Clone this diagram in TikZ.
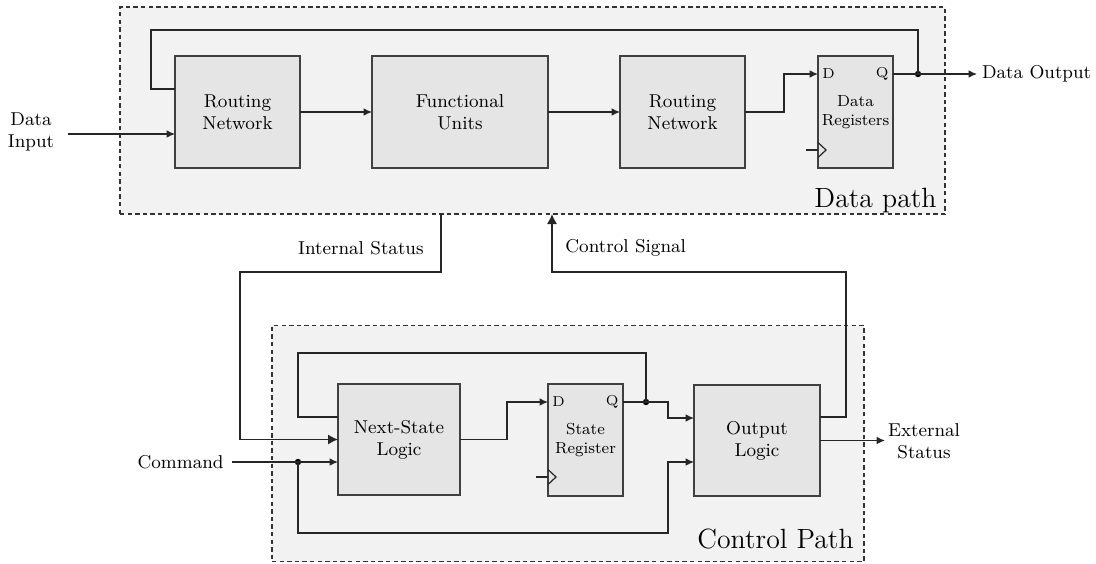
\documentclass[tikz,border=0pt]{standalone}
\usetikzlibrary{arrows.meta,calc}
\begin{document}
\begin{tikzpicture}[x=0.5pt,y=-0.5pt,
  txt/.style={font=\fontsize{9.3}{11}\selectfont},
  region/.style={draw=black!80, fill=black!5, line width=0.6pt,
    dash pattern=on 2.2pt off 1.6pt, inner sep=0pt, outer sep=0pt},
  block/.style={draw=black!75, fill=black!10, line width=0.65pt,
    inner sep=0pt, outer sep=0pt, align=center, txt},
  wire/.style={draw=black!85, line width=0.6pt},
  arr/.style={wire, -{Latex[length=4.2pt,width=3.8pt]}},
  bigarr/.style={wire, -{Latex[length=5pt,width=5pt]}},
  junction/.style={circle, fill=black, inner sep=0pt, minimum size=3.2pt},
  lbl/.style={txt, align=center, inner sep=0pt},
  pinlbl/.style={font=\fontsize{7.2}{8}\selectfont, inner sep=0pt},
  title/.style={font=\fontsize{13.9}{16}\selectfont, inner sep=0pt}]
\useasboundingbox (0,0) rectangle (1096,563);

% --- regions ---
\node[region, minimum width=412.5pt, minimum height=103.5pt] (dp) at (532.5,110.5) {};
\node[region, minimum width=296pt, minimum height=118pt] (cp) at (568,443.5) {};
\node[title, anchor=base east] (dptitle) at (937,207) {Data path};
\node[title, anchor=base east] (cptitle) at (854,548) {Control Path};

% --- data path blocks ---
\node[block, minimum width=62.5pt, minimum height=56pt] (rn1) at (237.5,112) {Routing\\Network};
\node[block, minimum width=88pt, minimum height=56pt] (fu) at (460,112) {Functional\\Units};
\node[block, minimum width=62.5pt, minimum height=56pt] (rn2) at (682.5,112) {Routing\\Network};
\node[block, minimum width=37.5pt, minimum height=56pt,
  font=\fontsize{8}{9.5}\selectfont] (dr) at (855.5,112) {Data\\Registers};

% register pins
\coordinate (drD) at ($(dr.north west)+(0,18)$);
\coordinate (drQ) at ($(dr.north east)+(0,18)$);
\coordinate (drC) at ($(dr.south west)+(0,-18)$);
\node[pinlbl, anchor=west] (drDl) at ($(drD)+(4,0)$) {D};
\node[pinlbl, anchor=east] (drQl) at ($(drQ)+(-4,0)$) {Q};
\draw[wire] ($(drC)+(-12,0)$) -- (drC);
\draw[wire] ($(drC)+(0,-7.5)$) -- ($(drC)+(8,0)$) -- ($(drC)+(0,7.5)$);

% --- control path blocks ---
\node[block, minimum width=61pt, minimum height=55.5pt] (nsl) at (399,439.5) {Next-State\\Logic};
\node[block, minimum width=37.5pt, minimum height=56pt,
  font=\fontsize{8}{9.5}\selectfont] (sr) at (585.5,440) {State\\Register};
\node[block, minimum width=63pt, minimum height=55.5pt] (ol) at (757,440.5) {Output\\Logic};

\coordinate (srD) at ($(sr.north west)+(0,18)$);
\coordinate (srQ) at ($(sr.north east)+(0,18)$);
\coordinate (srC) at ($(sr.south west)+(0,-19)$);
\node[pinlbl, anchor=west] (srDl) at ($(srD)+(4,0)$) {D};
\node[pinlbl, anchor=east] (srQl) at ($(srQ)+(-4,0)$) {Q};
\draw[wire] ($(srC)+(-12,0)$) -- (srC);
\draw[wire] ($(srC)+(0,-7.5)$) -- ($(srC)+(8,0)$) -- ($(srC)+(0,7.5)$);

% --- outside labels ---
\node[lbl, anchor=center] (din) at (31,132) {Data\\Input};
\node[lbl, anchor=west, outer sep=2.5pt] (dout) at (977,74) {Data Output};
\node[lbl, anchor=east] (cmd) at (224,462) {Command};
\node[lbl, anchor=west, outer sep=1.5pt] (ext) at (885,441) {External\\Status};
\node[lbl, anchor=east] (istat) at (424,248) {Internal Status};
\node[lbl, anchor=west] (csig) at (565,248) {Control Signal};

% --- data path wiring ---
\coordinate (dinl) at (68,134);
\draw[arr] (dinl) -- (rn1.west |- dinl);
\draw[arr] (rn1.east) -- (fu.west);
\draw[arr] (fu.east) -- (rn2.west);
\draw[arr] (rn2.east) -- ++(39,0) |- (drD);
\node[junction] (j1) at (918,74) {};
\draw[arr] (drQ) -- (dout.west);
\draw[wire] (j1.center) |- (151,30) |- ($(rn1.north west)+(0,33)$);

% --- status and control between the paths ---
\draw[bigarr] ($(dp.south west)+(321,0)$) |- (240,272) |- (nsl.west);
\draw[bigarr] ($(ol.east)+(0,-23.5)$) -| (846,272) -| ($(dp.south west)+(432,0)$);

% --- control path wiring ---
\draw[arr] (nsl.east) -- ++(47,0) |- (srD);
\node[junction] (j2) at (646,402) {};
\draw[arr] (srQ) -- ++(45,0) |- ($(ol.north west)+(0,33)$);
\draw[wire] (j2.center) |- (298,353) |- ($(nsl.north west)+(0,33)$);
\node[junction] (j3) at (298,462) {};
\draw[arr] ($(cmd.east)+(8,0)$) -- ($(nsl.south west)+(0,-33)$);
\draw[arr] (j3.center) |- (668,533) |- ($(ol.south west)+(0,-34)$);
\draw[arr] (ol.east) -- (ol.east -| ext.west);
\end{tikzpicture}
\end{document}
